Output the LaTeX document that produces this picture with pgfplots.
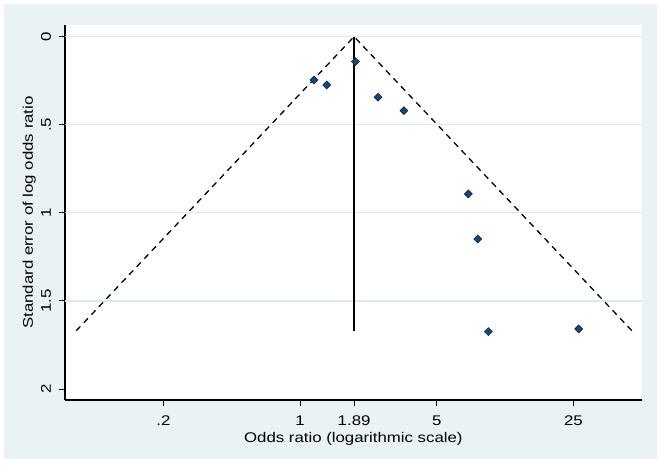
\documentclass[border=0pt]{standalone}
\usepackage{pgfplots}
\pgfplotsset{compat=1.18}
\usepackage{fontspec}
\setmainfont{Liberation Sans}[FakeStretch=1.2]
\definecolor{bg}{RGB}{234,242,243}
\definecolor{gridc}{RGB}{220,232,236}
\definecolor{navy}{RGB}{26,71,111}
\definecolor{navyd}{RGB}{14,40,66}
\begin{document}
\fontsize{14}{16}\selectfont
\begin{tikzpicture}[x=1pt,y=1pt]
\fill[white] (-65,-65) rectangle (599,400);
\fill[bg] (-61,-59) rectangle (592,396);
\begin{axis}[at={(0,0)}, anchor=south west, scale only axis,
  width=576.7pt, height=375pt,
  xmode=log, log basis x=10,
  xmin=0.0628, xmax=55.9, ymin=-0.066, ymax=2.062, y dir=reverse,
  axis background/.style={fill=white},
  axis x line=bottom, axis y line=left,
  axis line style={-, line width=1.5pt, black},
  xtick={0.2,1,1.89,5,25}, xticklabels={.2,1,1.89,5,25},
  minor xtick={},
  ytick={0,0.5,1,1.5,2}, yticklabels={0,.5,1,1.5,2},
  extra y ticks={0,0.5,1,1.5}, extra y tick labels={},
  extra y tick style={grid=major, major tick length=0pt},
  grid style={gridc, line width=1.2pt},
  tick align=outside, major tick length=6pt,
  tick style={black, line width=1pt},
  tick label style={font=\fontsize{14}{16}\selectfont},
  label style={font=\fontsize{14}{16}\selectfont},
  xticklabel style={anchor=base, yshift=-19pt},
  yticklabel style={xshift=-8pt, rotate=90, anchor=base},
  every axis x label/.style={at={(axis description cs:0.5,0)}, anchor=base, yshift=-42pt},
  every axis y label/.style={at={(axis description cs:0,0.5)}, xshift=-32pt, rotate=90, anchor=base},
  xlabel={Odds ratio (logarithmic scale)},
  ylabel={Standard error of log odds ratio},
  clip=false,
]
% pseudo 95% confidence limits
\addplot[black, line width=1.3pt, dash pattern=on 6pt off 5pt] coordinates {(0.0717,1.669) (1.89,0) (49.8,1.669)};
% pooled estimate
\addplot[black, line width=1.5pt] coordinates {(1.89,0) (1.89,1.669)};
% studies
\addplot[only marks, mark=square*, mark size=2.8pt, mark options={rotate=45, fill=navy, draw=navyd, line width=0.6pt}]
  coordinates {
  (1.18,0.246) (1.37,0.274) (1.92,0.142) (2.506,0.344) (3.40,0.420)
  (7.26,0.893) (8.11,1.148) (9.19,1.674) (26.6,1.659)
  };
\end{axis}
\pgfresetboundingbox
\useasboundingbox (-65,-65) rectangle (599,400);
\end{tikzpicture}
\end{document}
